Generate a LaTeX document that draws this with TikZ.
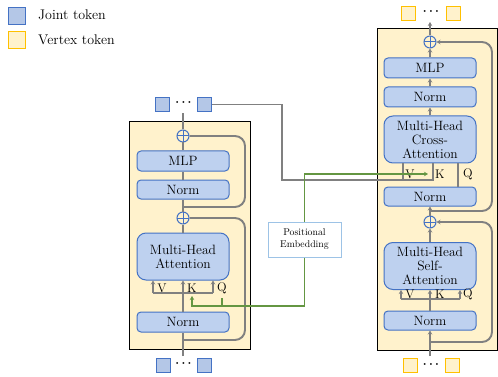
\documentclass[tikz,border=0pt]{standalone}
\usetikzlibrary{arrows.meta}
\definecolor{gline}{RGB}{128,128,128}
\definecolor{greenc}{RGB}{100,150,66}
\definecolor{blockfill}{RGB}{255,242,204}
\definecolor{boxfill}{RGB}{190,209,239}
\definecolor{boxborder}{RGB}{68,114,196}
\definecolor{tokbf}{RGB}{180,199,231}
\definecolor{tokyf}{RGB}{255,242,204}
\definecolor{tokyb}{RGB}{255,192,0}
\definecolor{pebd}{RGB}{157,195,230}
\begin{document}
\begin{tikzpicture}[x=1pt,y=-1pt,
  blk/.style={draw=black, line width=1pt, fill=blockfill, inner sep=0pt, outer sep=0pt},
  box/.style={draw=boxborder, fill=boxfill, line width=1pt, rounded corners=4pt, minimum width=92pt, inner sep=0pt, align=center, font=\fontsize{13.5}{14}\selectfont},
  attn/.style={box, rounded corners=9pt, minimum height=47pt},
  tokb/.style={draw=boxborder, fill=tokbf, minimum size=14pt, inner sep=0pt, line width=1pt},
  toky/.style={draw=tokyb, fill=tokyf, minimum size=14pt, inner sep=0pt, line width=1pt},
  opl/.style={circle, draw=boxborder, minimum size=12pt, inner sep=0pt, line width=1pt,
    path picture={\draw[boxborder, line width=1pt] (path picture bounding box.north) -- (path picture bounding box.south) (path picture bounding box.west) -- (path picture bounding box.east);}},
  gl/.style={draw=gline, line width=1.9pt},
  gr/.style={draw=greenc, line width=1.5pt},
  arr/.style={-{Stealth[length=4pt,width=4.5pt]}},
  lab/.style={inner sep=0pt, font=\fontsize{12.5}{12}\selectfont},
  dts/.style={inner sep=0pt, font=\fontsize{12}{12}\selectfont\boldmath},
  leg/.style={anchor=west, inner sep=0pt, font=\fontsize{14}{14}\selectfont},
  pebox/.style={draw=pebd, fill=white, line width=1pt, inner sep=0pt, minimum width=73pt, minimum height=35pt, align=center, font=\fontsize{9.8}{12}\selectfont}
]
\useasboundingbox (0,0) rectangle (498,377);

% legend
\node[tokb, minimum size=17pt] (lgj) at (16.5,16) {};
\node[leg] (lgjt) at (38,15) {Joint token};
\node[toky, minimum size=17pt] (lgv) at (16.5,40) {};
\node[leg] (lgvt) at (38,40) {Vertex token};

% blocks
\node[blk, minimum width=121pt, minimum height=227pt] (lblk) at (189.5,235.5) {};
\node[blk, minimum width=120pt, minimum height=321pt] (rblk) at (437,189.5) {};

% ---------- left encoder ----------
\node[tokb] (ltok1) at (162.5,104.5) {};
\node[tokb] (ltok2) at (204.5,104.5) {};
\node[dts] (ldot1) at (183.5,103) {$\cdots$};
\node[opl] (lop1) at (183,136) {};
\node[box, minimum height=20pt] (lmlp) at (183,161) {MLP};
\node[box, minimum height=19pt] (lnorm1) at (183,189.5) {Norm};
\node[opl] (lop2) at (183,218) {};
\node[attn] (lmha) at (183,256.5) {Multi-Head\\Attention};
\node[box, minimum height=20pt] (lnorm2) at (183,322) {Norm};
\node[tokb] (lbt1) at (163.5,365) {};
\node[tokb] (lbt2) at (204.5,365) {};
\node[dts] (ldot2) at (183.5,364) {$\cdots$};
\node[lab] (lV) at (162,288) {V};
\node[lab] (lK) at (192,288) {K};
\node[lab] (lQ) at (222,288) {Q};

\coordinate (lin) at (183,356);
\coordinate (lout) at (183,113);
\coordinate (lj1) at (183,207);
\coordinate (lj2) at (183,340);
\coordinate (lbv) at (153,293);
\coordinate (lbq) at (213,293);

\draw[gl] (lin) -- (lnorm2.south);
\draw[gl,arr] (lnorm2.north) -- (lmha.south);
\draw[gl] (lmha.north) -- (lop2.south);
\draw[gl] (lop2.north) -- (lnorm1.south);
\draw[gl] (lnorm1.north) -- (lmlp.south);
\draw[gl] (lmlp.north) -- (lop1.south);
\draw[gl] (lop1.north) -- (lout);
\draw[gl] (lbv) -- (lbq);
\draw[gl,arr] (lbv) -- (lbv |- lmha.south);
\draw[gl,arr] (lbq) -- (lbq |- lmha.south);
\draw[gl, rounded corners=10pt] (lj1) -| (245,136) -- (lop1.east);
\draw[gl, rounded corners=10pt] (lj2) -| (245,218) -- (lop2.east);

% ---------- positional embedding ----------
\node[pebox] (pe) at (304.5,239.5) {Positional\\Embedding};

% ---------- right decoder ----------
\node[toky] (rtok1) at (408,13.5) {};
\node[toky] (rtok2) at (453,13.5) {};
\node[dts] (rdot1) at (431,12) {$\cdots$};
\node[opl] (rop1) at (430,42) {};
\node[box, minimum height=20pt] (rmlp) at (430,68) {MLP};
\node[box, minimum height=20pt] (rnorm1) at (430,97) {Norm};
\node[attn] (rca) at (430,139.5) {Multi-Head\\Cross-\\Attention};
\node[box, minimum height=19pt] (rnorm2) at (430,196.5) {Norm};
\node[opl] (rop2) at (430,222) {};
\node[attn] (rsa) at (430,266) {Multi-Head\\Self-\\Attention};
\node[box, minimum height=19pt] (rnorm3) at (430,320.5) {Norm};
\node[toky] (rbt1) at (410,365) {};
\node[toky] (rbt2) at (452,365) {};
\node[dts] (rdot2) at (431,365) {$\cdots$};
\node[lab] (rcV) at (410,174) {V};
\node[lab] (rcK) at (440,174) {K};
\node[lab] (rcQ) at (468,174) {Q};
\node[lab] (rsV) at (410,294) {V};
\node[lab] (rsK) at (440,294) {K};
\node[lab] (rsQ) at (468,294) {Q};

\coordinate (rin) at (430,356);
\coordinate (rout) at (430,22);
\coordinate (rj1) at (430,211);
\coordinate (rj2) at (430,342);
\coordinate (rbv) at (401,299);
\coordinate (rbq) at (460,299);
\coordinate (rqx) at (458,0);

\draw[gl,arr] (rin) -- (rnorm3.south);
\draw[gl,arr] (rnorm3.north) -- (rsa.south);
\draw[gl,arr] (rsa.north) -- (rop2.south);
\draw[gl,arr] (rop2.north) -- (rnorm2.south);
\draw[gl] (rnorm2.north -| rqx) -- (rca.south -| rqx);
\draw[gl,arr] (rca.north) -- (rnorm1.south);
\draw[gl,arr] (rnorm1.north) -- (rmlp.south);
\draw[gl,arr] (rmlp.north) -- (rop1.south);
\draw[gl,arr] (rop1.north) -- (rout);
\draw[gl] (rbv) -- (rbq);
\draw[gl,arr] (rbv) -- (rbv |- rsa.south);
\draw[gl,arr] (rbq) -- (rbq |- rsa.south);
\draw[gl, rounded corners=10pt, arr] (rj1) -| (492,42) -- (rop1.east);
\draw[gl, rounded corners=10pt, arr] (rj2) -| (492,222) -- (rop2.east);

% ---------- cross connections ----------
\coordinate (cv) at (403,180);
\coordinate (ck) at (433,180);
\draw[gl] (ltok2.east) -- (282,104.5) -- (282,180) -- (ck) -- (ck |- rca.south);
\draw[gl] (cv) -- (cv |- rca.south);
\coordinate (gk2) at (428,174);
\draw[gr,arr] (pe.north) |- (gk2);
\coordinate (gkb) at (192,306);
\coordinate (gk) at (192,296);
\coordinate (gq) at (222,298);
\draw[gr,arr] (pe.south) |- (gkb) -- (gk);
\draw[gr] (gq |- gkb) -- (gq);
\end{tikzpicture}
\end{document}
